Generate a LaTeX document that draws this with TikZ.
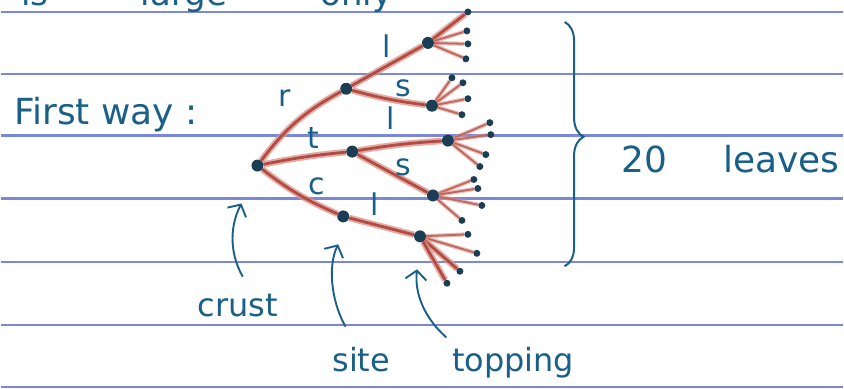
\documentclass[tikz,border=0pt]{standalone}
\usepackage{fontspec}
\setmainfont{DejaVu Sans}
\usetikzlibrary{arrows.meta,decorations.pathreplacing}
\definecolor{ink}{RGB}{25,95,135}
\definecolor{rulec}{RGB}{100,115,210}
\definecolor{pencil}{RGB}{178,76,66}
\definecolor{pencillight}{RGB}{220,145,135}
\definecolor{dotc}{RGB}{28,62,84}
\pgfdeclarelayer{bg}
\pgfdeclarelayer{paper}
\pgfsetlayers{paper,bg,main}
\begin{document}
\begin{tikzpicture}[x=1pt,y=-1pt,
  ruleline/.style={rulec, line width=2.3pt, opacity=0.85},
  branch/.style={pencil, line width=2.8pt, preaction={draw, pencillight, line width=6.5pt, opacity=0.75}},
  twig/.style={pencil!85!white, line width=1.8pt, preaction={draw, pencillight, line width=4.2pt, opacity=0.6}},
  inner/.style={circle, fill=dotc, inner sep=0pt, minimum size=12pt},
  leaf/.style={circle, fill=dotc, inner sep=0pt, minimum size=7pt},
  lab/.style={text=ink, font=\fontsize{30}{30}\selectfont, inner sep=0pt},
  hand/.style={text=ink, inner sep=0pt, anchor=base west},
  pointer/.style={ink, line width=1.9pt, line cap=round, -{Straight Barb[length=9pt,width=21pt]}},
]
\begin{pgfonlayer}{paper}
\fill[white] (0,0) rectangle (844,390);
\foreach \yy in {12,74,136,199,263,326,388}
  \draw[ruleline] (0,\yy) -- (844,\yy);
\end{pgfonlayer}
\useasboundingbox (0,0) rectangle (844,390);

% cropped text at the top
\node[hand, font=\fontsize{34}{34}\selectfont] (topis) at (20,6) {is};
\node[hand, font=\fontsize{34}{34}\selectfont] (toplarge) at (140,6) {large};
\node[hand, font=\fontsize{34}{34}\selectfont] (toponly) at (320,6) {only};

% texts
\node[hand, font=\fontsize{36}{36}\selectfont] (first) at (13,125) {First way :};
\node[hand, font=\fontsize{36}{36}\selectfont] (leaves) at (622,173) {20\hspace{56pt}leaves};
\node[hand, font=\fontsize{32}{32}\selectfont] (crust) at (197,317) {crust};
\node[hand, font=\fontsize{32}{32}\selectfont] (site) at (332,373) {site};
\node[hand, font=\fontsize{32}{32}\selectfont] (topping) at (452,373) {topping};

% tree nodes
\node[inner] (root) at (257,166) {};
\node[inner] (nR) at (346,89) {};
\node[inner] (nT) at (352,152) {};
\node[inner] (nC) at (343,217) {};
\node[inner] (rl) at (428,43) {};
\node[inner] (rs) at (432,106) {};
\node[inner] (tl) at (448,141) {};
\node[inner] (ts) at (433,196) {};
\node[inner] (cl) at (420,237) {};

% leaves
\foreach \n/\x/\y in {a1/468/12,a2/467/31,a3/468/44,a4/466/59,
                      b1/452/78,b2/463/83,b3/468/99,b4/462/115,
                      c1/490/123,c2/491/135,c3/486/155,c4/480/167,
                      d1/474/180,d2/478/189,d3/482/206,d4/462/221,
                      e1/468/235,e2/477/254,e3/460/272,e4/447/284}
  \node[leaf] (\n) at (\x,\y) {};

% edges
\begin{pgfonlayer}{bg}
\draw[branch] (root) to[bend left=12] (nR);
\draw[branch] (root) to[bend left=3] (nT);
\draw[branch] (root) to[bend right=7] (nC);
\draw[branch] (nR) -- (rl);
\draw[branch] (nR) to[bend right=4] (rs);
\draw[branch] (nT) to[bend left=3] (tl);
\draw[branch] (nT) -- (ts);
\draw[branch] (nC) -- (cl);
\draw[branch] (rl) -- (a1);
\foreach \n in {a2,a3,a4} \draw[twig] (rl) -- (\n);
\foreach \n in {b1,b2,b3,b4} \draw[twig] (rs) -- (\n);
\foreach \n in {c1,c2,c3,c4} \draw[twig] (tl) -- (\n);
\foreach \n in {d1,d2,d3,d4} \draw[twig] (ts) -- (\n);
\foreach \n in {e1,e2} \draw[twig] (cl) -- (\n);
\foreach \n in {e3,e4} \draw[branch] (cl) -- (\n);
\end{pgfonlayer}

% edge labels
\node[lab] (labR) at (284,98) {r};
\node[lab] (labL1) at (387,46) {l};
\node[lab] (labS1) at (403,89) {s};
\node[lab] (labT) at (313,138) {t};
\node[lab] (labL2) at (391,118) {l};
\node[lab] (labS2) at (403,168) {s};
\node[lab] (labC) at (316,187) {c};
\node[lab] (labL3) at (375,205) {l};

% brace
\coordinate (braceTop) at (565,22);
\coordinate (braceBot) at (565,267);
\draw[ink, line width=2pt, decorate, decoration={brace, amplitude=19pt, aspect=0.47}] (braceTop) -- (braceBot);

% pointers
\coordinate (crustTail) at (242,277);
\coordinate (crustHead) at (241,204);
\draw[pointer] (crustTail) .. controls (228,252) and (230,225) .. (crustHead);
\coordinate (siteTail) at (345,327);
\coordinate (siteHead) at (338,245);
\draw[pointer] (siteTail) .. controls (330,300) and (328,265) .. (siteHead);
\coordinate (topTail) at (446,338);
\coordinate (topHead) at (417,270);
\draw[pointer] (topTail) .. controls (428,322) and (414,298) .. (topHead);
\end{tikzpicture}
\end{document}
